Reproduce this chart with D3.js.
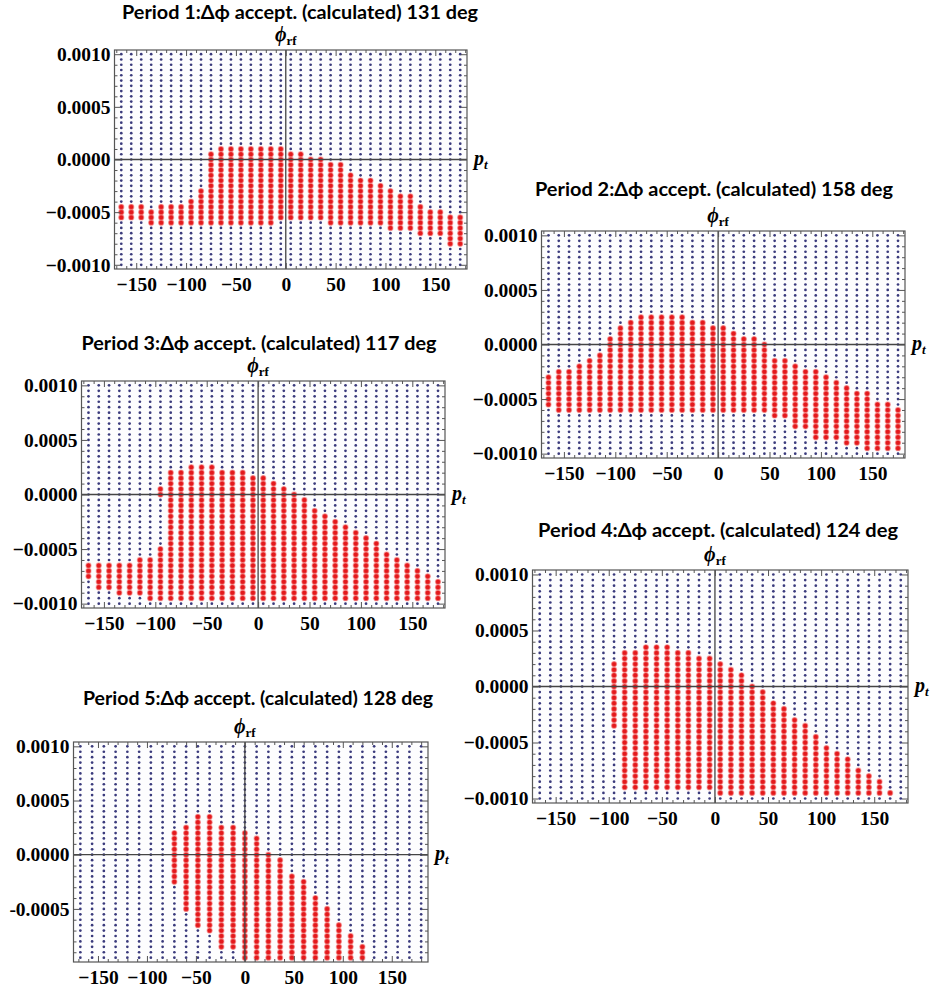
<!DOCTYPE html>
<html><head><meta charset="utf-8">
<script src="https://cdn.jsdelivr.net/npm/d3@7"></script>
<style>
body{margin:0;background:#fff}
text{font-family:"Liberation Serif",serif}
</style>
</head><body><svg id="c" width="934" height="988"></svg>
<script>
// ---------- data ----------
const titles = [
  "Period 1:\u0394\u03d5 accept. (calculated) 131 deg",
  "Period 2:\u0394\u03d5 accept. (calculated) 158 deg",
  "Period 3:\u0394\u03d5 accept. (calculated) 117 deg",
  "Period 4:\u0394\u03d5 accept. (calculated) 124 deg",
  "Period 5:\u0394\u03d5 accept. (calculated) 128 deg"
];
// phase grid (deg)
const cols10 = [-165,-155,-145,-135,-125,-115,-105,-95,-85,-75,-65,-55,-45,-35,-25,-15,-5,5,15,25,35,45,55,65,75,85,95,105,115,125,135,145,155,165,175];
const cols12 = [-168,-156,-144,-132,-120,-108,-96,-84,-72,-60,-48,-36,-24,-12,0,12,24,36,48,60,72,84,96,108,120,132,144,156,168,180];
// momentum grid
const rowsA = [-0.001,-0.00095,-0.0009,-0.00085,-0.0008,-0.00075,-0.0007,-0.00065,-0.0006,-0.00055,-0.0005,-0.00045,-0.0004,-0.00035,-0.0003,-0.00025,-0.0002,-0.00015,-0.0001,-0.00005,0,0.00005,0.0001,0.00015,0.0002,0.00025,0.0003,0.00035,0.0004,0.00045,0.0005,0.00055,0.0006,0.00065,0.0007,0.00075,0.0008,0.00085,0.0009,0.00095,0.001];
const rowsB = [-0.00095,-0.0009,-0.00085,-0.0008,-0.00075,-0.0007,-0.00065,-0.0006,-0.00055,-0.0005,-0.00045,-0.0004,-0.00035,-0.0003,-0.00025,-0.0002,-0.00015,-0.0001,-0.00005,0,0.00005,0.0001,0.00015,0.0002,0.00025,0.0003,0.00035,0.0004,0.00045,0.0005,0.00055,0.0006,0.00065,0.0007,0.00075,0.0008,0.00085,0.0009,0.00095,0.001];

// accepted region per column: upper / lower momentum (null = none)
const p1Hi = [-0.00045,-0.00045,-0.00045,-0.0005,-0.00045,-0.00045,-0.00045,-0.0004,-0.0003,0.00005,0.0001,0.0001,0.0001,0.0001,0.0001,0.0001,0.0001,0.00005,0.00005,0,0,-0.00005,-0.00005,-0.00015,-0.0002,-0.0002,-0.00025,-0.0003,-0.00035,-0.00035,-0.00045,-0.0005,-0.0005,-0.00055,-0.00055];
const p1Lo = [-0.00055,-0.00055,-0.00055,-0.0006,-0.0006,-0.0006,-0.0006,-0.0006,-0.0006,-0.0006,-0.0006,-0.0006,-0.0006,-0.0006,-0.0006,-0.0006,-0.00055,-0.00055,-0.00055,-0.00055,-0.00055,-0.0006,-0.0006,-0.0006,-0.0006,-0.0006,-0.0006,-0.00065,-0.00065,-0.00065,-0.0007,-0.0007,-0.0007,-0.0008,-0.0008];

const p2Hi = [-0.0003,-0.00025,-0.00025,-0.0002,-0.00015,-0.0001,0.00005,0.00015,0.0002,0.00025,0.00025,0.00025,0.00025,0.00025,0.0002,0.0002,0.00015,0.00015,0.0001,0.00005,0.00005,0,-0.00015,-0.00015,-0.0002,-0.00025,-0.00025,-0.0003,-0.00035,-0.0004,-0.00045,-0.00045,-0.00055,-0.00055,-0.0006];
const p2Lo = [-0.00055,-0.0006,-0.0006,-0.0006,-0.0006,-0.0006,-0.0006,-0.0006,-0.0006,-0.0006,-0.0006,-0.0006,-0.0006,-0.0006,-0.0006,-0.0006,-0.0006,-0.0006,-0.0006,-0.0006,-0.0006,-0.0006,-0.00065,-0.00065,-0.00075,-0.00075,-0.00085,-0.00085,-0.00085,-0.0009,-0.0009,-0.00095,-0.00095,-0.00095,-0.00095];

const p3Hi = [-0.00065,-0.00065,-0.00065,-0.00065,-0.00065,-0.0006,-0.0006,-0.0005,0.0002,0.0002,0.00025,0.00025,0.00025,0.0002,0.0002,0.0002,0.00015,0.00015,0.0001,0.00005,0,-0.00005,-0.00015,-0.0002,-0.00025,-0.0003,-0.00035,-0.0004,-0.00045,-0.00055,-0.0006,-0.00065,-0.0007,-0.00075,-0.0008];
const p3Lo = [-0.00075,-0.00085,-0.00085,-0.0009,-0.0009,-0.0009,-0.00095,-0.00095,-0.00095,-0.00095,-0.00095,-0.00095,-0.00095,-0.00095,-0.00095,-0.00095,-0.00095,-0.00095,-0.00095,-0.00095,-0.00095,-0.00095,-0.00095,-0.00095,-0.00095,-0.00095,-0.00095,-0.00095,-0.00095,-0.00095,-0.00095,-0.00095,-0.00095,-0.00095,-0.00095];
// isolated accepted patch in period 3
const p3ExtraCol = [-95];
const p3ExtraHi = [0.00005];
const p3ExtraLo = [0];

const p4Hi = [null,null,null,null,null,null,null,0.0002,0.0003,0.0003,0.00035,0.00035,0.00035,0.0003,0.0003,0.00025,0.00025,0.0002,0.00015,0.0001,0,-0.00005,-0.00015,-0.0002,-0.0003,-0.00035,-0.00045,-0.00055,-0.0006,-0.00065,-0.00075,-0.0008,-0.00085,-0.00095,null];
const p4Lo = [null,null,null,null,null,null,null,-0.00035,-0.0009,-0.0009,-0.0009,-0.0009,-0.0009,-0.0009,-0.0009,-0.0009,-0.0009,-0.00095,-0.00095,-0.00095,-0.00095,-0.00095,-0.00095,-0.00095,-0.00095,-0.00095,-0.00095,-0.00095,-0.00095,-0.00095,-0.00095,-0.00095,-0.00095,-0.00095,null];

const p5Hi = [null,null,null,null,null,null,null,null,0.0002,0.00025,0.00035,0.00035,0.00025,0.00025,0.0002,0.00015,0,-0.00005,-0.0002,-0.00025,-0.0004,-0.0005,-0.00065,-0.00075,-0.00085,null,null,null,null,null];
const p5Lo = [null,null,null,null,null,null,null,null,-0.00025,-0.0005,-0.00065,-0.0007,-0.00085,-0.00085,-0.00095,-0.00095,-0.00095,-0.00095,-0.00095,-0.00095,-0.00095,-0.00095,-0.00095,-0.00095,-0.00095,null,null,null,null,null];

// tick values
const xMajor = [-150,-100,-50,0,50,100,150];
const xMinor = [-170,-160,-140,-130,-120,-110,-90,-80,-70,-60,-40,-30,-20,-10,10,20,30,40,60,70,80,90,110,120,130,140,160,170,180];
const yMajor = [-0.001,-0.0005,0,0.0005,0.001];
const yMinor = [-0.0009,-0.0008,-0.0007,-0.0006,-0.0004,-0.0003,-0.0002,-0.0001,0.0001,0.0002,0.0003,0.0004,0.0006,0.0007,0.0008,0.0009];

// ---------- layout ----------
const panels = [
  {title:titles[0], cols:cols10, rows:rowsA, hi:p1Hi, lo:p1Lo, xd:[-171.8,181.8], yd:[-0.00104,0.00104],
   L:114.5, R:467, T:50, B:269, tx:300, ty:19, tw:356, minus:"\u2212"},
  {title:titles[1], cols:cols10, rows:rowsA, hi:p2Hi, lo:p2Lo, xd:[-171.8,181.8], yd:[-0.00104,0.00104],
   L:541.5, R:905, T:231, B:458, tx:714, ty:196, tw:358, minus:"\u2212"},
  {title:titles[2], cols:cols10, rows:rowsA, hi:p3Hi, lo:p3Lo, xd:[-171.8,181.8], yd:[-0.00104,0.00104],
   L:81.5, R:445, T:381, B:608, tx:259, ty:350, tw:355, minus:"\u2212",
   exCol:p3ExtraCol, exHi:p3ExtraHi, exLo:p3ExtraLo},
  {title:titles[3], cols:cols10, rows:rowsA, hi:p4Hi, lo:p4Lo, xd:[-171.8,181.8], yd:[-0.00104,0.00104],
   L:532.5, R:908, T:570, B:803, tx:718, ty:537, tw:360, minus:"\u2212"},
  {title:titles[4], cols:cols12, rows:rowsB, hi:p5Hi, lo:p5Lo, xd:[-175,187], yd:[-0.00099,0.00104],
   L:73.5, R:428, T:742, B:962, tx:258, ty:705, tw:350, minus:"-"}
];

const svg = d3.select("#c");
const fmtX = d => (d < 0 ? "\u2212" : "") + Math.abs(d);
const eps = 1e-9;

function styleAxis(sel, withText){
  sel.select(".domain").remove();
  sel.selectAll(".tick line").attr("stroke","#555").attr("stroke-width",1);
  if (withText) {
    sel.selectAll(".tick text").attr("fill","#000").style("font-family","'Liberation Serif',serif")
      .style("font-weight","bold").style("font-size","19.5px");
  } else sel.selectAll(".tick text").remove();
}

panels.forEach(p => {
  const g = svg.append("g");
  const x = d3.scaleLinear().domain(p.xd).range([p.L, p.R]);
  const y = d3.scaleLinear().domain(p.yd).range([p.B, p.T]);
  const fmtY = d => (d < 0 ? p.minus : "") + Math.abs(d).toFixed(4);

  g.append("rect").attr("x",p.L).attr("y",p.T).attr("width",p.R-p.L).attr("height",p.B-p.T).attr("fill","#fdfdfe");

  const pts = [];
  p.cols.forEach((c,i) => {
    p.rows.forEach(r => {
      let red = p.hi[i] != null && r <= p.hi[i] + eps && r >= p.lo[i] - eps;
      if (p.exCol) p.exCol.forEach((ec,j) => { if (ec === c && r <= p.exHi[j]+eps && r >= p.exLo[j]-eps) red = true; });
      pts.push({c, r, red});
    });
  });
  g.append("g").selectAll("circle").data(pts.filter(d => !d.red)).join("circle")
    .attr("cx", d => x(d.c)).attr("cy", d => y(d.r)).attr("r", 1.35).attr("fill", "#3a3a7c");
  g.append("g").selectAll("circle").data(pts.filter(d => d.red)).join("circle")
    .attr("cx", d => x(d.c)).attr("cy", d => y(d.r)).attr("r", 2.55)
    .attr("fill", "#e3191c").attr("stroke","rgba(245,130,130,0.55)").attr("stroke-width",1.2);

  // axes at origin
  g.append("line").attr("x1",p.L).attr("x2",p.R).attr("y1",y(0)).attr("y2",y(0)).attr("stroke","#444").attr("stroke-width",1.3);
  g.append("line").attr("x1",x(0)).attr("x2",x(0)).attr("y1",p.T).attr("y2",p.B).attr("stroke","#444").attr("stroke-width",1.3);

  const yMaj = yMajor.filter(t => t >= p.yd[0] && t <= p.yd[1]);
  const yMin = yMinor.filter(t => t >= p.yd[0] && t <= p.yd[1]);
  const xMin = xMinor.filter(t => t >= p.xd[0] && t <= p.xd[1]);

  g.append("g").attr("transform",`translate(${p.L},0)`).call(d3.axisLeft(y).tickValues(yMaj).tickSize(-6).tickPadding(4).tickFormat(fmtY)).call(s=>styleAxis(s,true));
  g.append("g").attr("transform",`translate(${p.L},0)`).call(d3.axisLeft(y).tickValues(yMin).tickSize(-3).tickFormat("")).call(s=>styleAxis(s,false));
  g.append("g").attr("transform",`translate(${p.R},0)`).call(d3.axisRight(y).tickValues(yMaj).tickSize(-6).tickFormat("")).call(s=>styleAxis(s,false));
  g.append("g").attr("transform",`translate(${p.R},0)`).call(d3.axisRight(y).tickValues(yMin).tickSize(-3).tickFormat("")).call(s=>styleAxis(s,false));
  g.append("g").attr("transform",`translate(0,${p.B})`).call(d3.axisBottom(x).tickValues(xMajor).tickSize(-6).tickPadding(8).tickFormat(fmtX)).call(s=>styleAxis(s,true));
  g.append("g").attr("transform",`translate(0,${p.B})`).call(d3.axisBottom(x).tickValues(xMin).tickSize(-3).tickFormat("")).call(s=>styleAxis(s,false));
  g.append("g").attr("transform",`translate(0,${p.T})`).call(d3.axisTop(x).tickValues(xMajor).tickSize(-6).tickFormat("")).call(s=>styleAxis(s,false));
  g.append("g").attr("transform",`translate(0,${p.T})`).call(d3.axisTop(x).tickValues(xMin).tickSize(-3).tickFormat("")).call(s=>styleAxis(s,false));

  g.append("rect").attr("x",p.L).attr("y",p.T).attr("width",p.R-p.L).attr("height",p.B-p.T)
    .attr("fill","none").attr("stroke","#555").attr("stroke-width",1.2);

  // axis labels
  const phi = g.append("text").attr("x", x(0)).attr("y", p.T - 9).attr("text-anchor","middle")
    .style("font-weight","bold");
  phi.append("tspan").text("\u03d5").style("font-style","italic").style("font-size","20px");
  phi.append("tspan").text("rf").style("font-size","13px").attr("dy",4);

  const pt = g.append("text").attr("x", p.R + 7).attr("y", y(0) + 5).style("font-weight","bold").style("font-style","italic");
  pt.append("tspan").text("p").style("font-size","20px");
  pt.append("tspan").text("t").style("font-size","13px").attr("dy",4);

  g.append("text").attr("x",p.tx).attr("y",p.ty).attr("text-anchor","middle")
    .style("font-family","Lato, 'Open Sans', sans-serif").style("font-weight","bold").style("font-size","19px")
    .attr("textLength",p.tw).attr("lengthAdjust","spacingAndGlyphs").text(p.title);
});
</script>
</body></html>
